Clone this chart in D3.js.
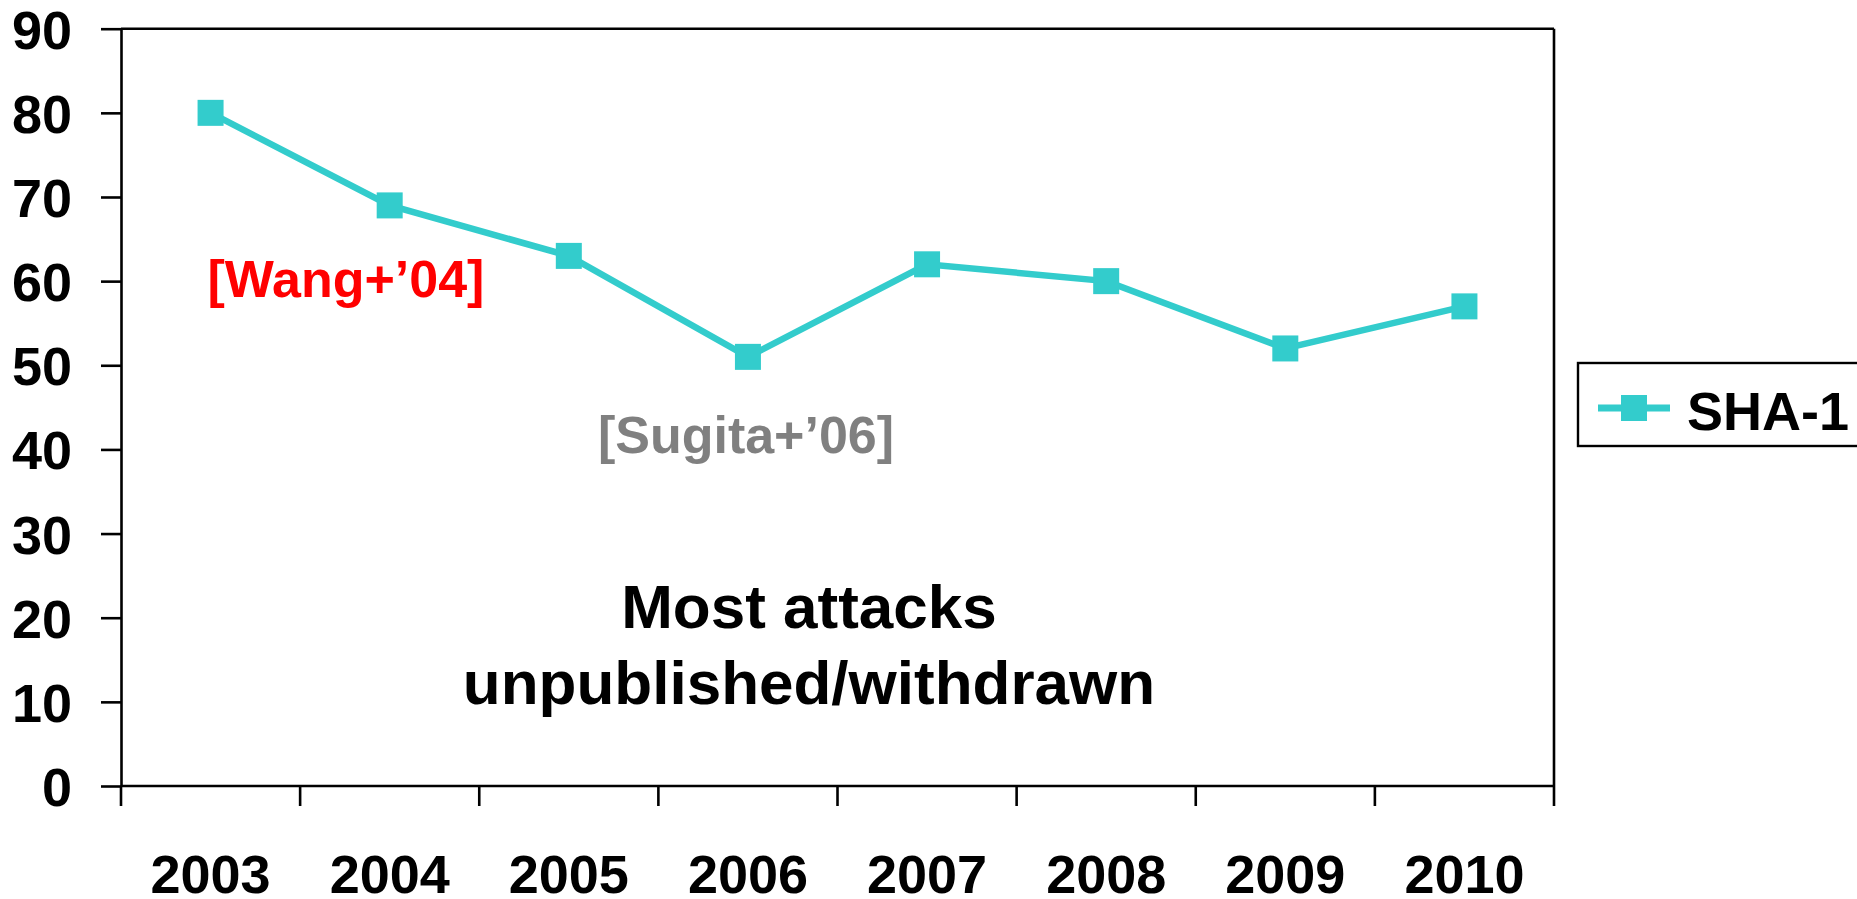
<!DOCTYPE html>
<html>
<head>
<meta charset="utf-8">
<script src="https://cdn.jsdelivr.net/npm/d3@7"></script>
<style>
  body { margin: 0; background: #fff; }
  svg text { font-family: "Liberation Sans", Arial, sans-serif; font-weight: bold; }
</style>
</head>
<body>
<svg id="chart"></svg>
<script>
const years = ["2003", "2004", "2005", "2006", "2007", "2008", "2009", "2010"];
const sha1 = [80, 69, 63, 51, 62, 60, 52, 57];
const yTicks = [0, 10, 20, 30, 40, 50, 60, 70, 80, 90];
const seriesName = "SHA-1";

const width = 1857;
const height = 899;
const plot = { left: 121, right: 1554, top: 28.7, bottom: 786 };
const lineColor = "#33cccc";

const svg = d3.select("#chart").attr("width", width).attr("height", height);

const x = d3.scaleBand().domain(years).range([plot.left, plot.right]).padding(0);
const y = d3.scaleLinear().domain([0, 90]).range([plot.bottom, plot.top]);

// y axis
const yAxis = svg.append("g")
  .attr("transform", `translate(${plot.left},0)`)
  .call(d3.axisLeft(y).tickValues(yTicks).tickSize(20).tickSizeOuter(0).tickPadding(29));
yAxis.selectAll("line, path").attr("stroke", "#000").attr("stroke-width", 2.6);
yAxis.selectAll("text").attr("font-size", 54).attr("fill", "#000").attr("dy", "0.36em");

// x axis labels
const xAxis = svg.append("g")
  .attr("transform", `translate(0,${plot.bottom})`)
  .call(d3.axisBottom(x).tickSize(0).tickPadding(69));
xAxis.select(".domain").remove();
xAxis.selectAll("text").attr("font-size", 54).attr("fill", "#000");

// frame lines
const frame = svg.append("g").attr("stroke", "#000").attr("stroke-width", 2.6);
frame.append("line").attr("x1", plot.left).attr("x2", plot.right).attr("y1", y(0)).attr("y2", y(0));
frame.append("line").attr("x1", plot.left).attr("x2", plot.right).attr("y1", y(90)).attr("y2", y(90));
frame.append("line").attr("x1", plot.right).attr("x2", plot.right).attr("y1", y(90)).attr("y2", y(0) + 20);
// boundary ticks between categories
frame.selectAll(".xtick")
  .data(years)
  .enter()
  .append("line")
  .attr("class", "xtick")
  .attr("x1", (d) => x(d))
  .attr("x2", (d) => x(d))
  .attr("y1", y(0))
  .attr("y2", y(0) + 20);

// series line
const line = d3.line()
  .x((d, i) => x(years[i]) + x.bandwidth() / 2)
  .y((d) => y(d));

svg.append("path")
  .datum(sha1)
  .attr("d", line)
  .attr("fill", "none")
  .attr("stroke", lineColor)
  .attr("stroke-width", 6.5);

const ms = 26;
svg.selectAll(".marker")
  .data(sha1)
  .enter()
  .append("rect")
  .attr("class", "marker")
  .attr("x", (d, i) => x(years[i]) + x.bandwidth() / 2 - ms / 2)
  .attr("y", (d) => y(d) - ms / 2)
  .attr("width", ms)
  .attr("height", ms)
  .attr("fill", lineColor);

// annotations
svg.append("text")
  .attr("x", 346)
  .attr("y", 297)
  .attr("text-anchor", "middle")
  .attr("font-size", 52)
  .attr("fill", "#ff0000")
  .text("[Wang+\u201904]");

svg.append("text")
  .attr("x", 746)
  .attr("y", 453)
  .attr("text-anchor", "middle")
  .attr("font-size", 52)
  .attr("fill", "#808080")
  .text("[Sugita+\u201906]");

const note = svg.append("text")
  .attr("text-anchor", "middle")
  .attr("font-size", 62)
  .attr("fill", "#000");
note.append("tspan").attr("x", 809).attr("y", 628).text("Most attacks");
note.append("tspan").attr("x", 809).attr("y", 704).text("unpublished/withdrawn");

// legend
const legend = svg.append("g").attr("transform", "translate(1578,363)");
legend.append("rect")
  .attr("width", 320)
  .attr("height", 83)
  .attr("fill", "#fff")
  .attr("stroke", "#000")
  .attr("stroke-width", 2.4);
legend.append("line")
  .attr("x1", 20).attr("x2", 92)
  .attr("y1", 45).attr("y2", 45)
  .attr("stroke", lineColor)
  .attr("stroke-width", 7);
legend.append("rect")
  .attr("x", 56 - ms / 2)
  .attr("y", 45 - ms / 2)
  .attr("width", ms)
  .attr("height", ms)
  .attr("fill", lineColor);
legend.append("text")
  .attr("x", 109)
  .attr("y", 67)
  .attr("font-size", 54)
  .attr("fill", "#000")
  .text(seriesName);
</script>
</body>
</html>
